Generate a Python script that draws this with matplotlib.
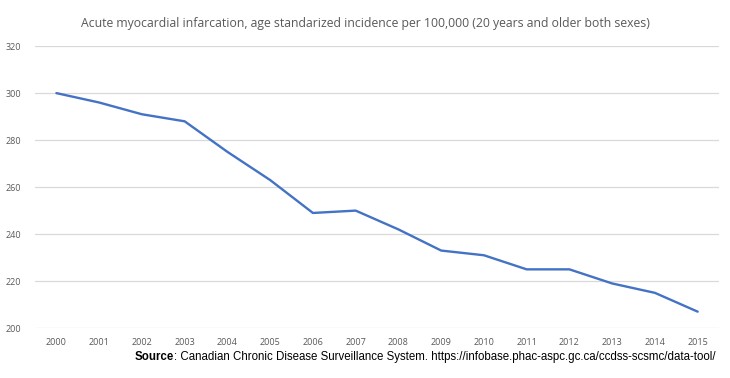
import matplotlib
matplotlib.use("Agg")
import matplotlib.pyplot as plt

years = [str(y) for y in range(2000, 2016)]
incidence = [300, 296, 291, 288, 275, 263, 249, 250, 242, 233, 231, 225, 225, 219, 215, 207]
y_ticks = [200, 220, 240, 260, 280, 300, 320]
title = "Acute myocardial infarcation, age standarized incidence per 100,000 (20 years and older both sexes)"
source_label = "Source"
source_text = ": Canadian Chronic Disease Surveillance System. https://infobase.phac-aspc.gc.ca/ccdss-scsmc/data-tool/"

W, H = 730, 378
fig = plt.figure(figsize=(W / 100, H / 100), dpi=100)
ax = fig.add_axes([0.048, 0.132, 0.937, 0.746])

x = list(range(len(years)))
ax.plot(x, incidence, color="#4472C4", linewidth=1.7, solid_capstyle="round")

ax.set_xlim(-0.5, len(years) - 0.5)
ax.set_ylim(200, 320)
ax.set_yticks(y_ticks)
ax.set_xticks(x)
ax.set_xticklabels(years)
ax.grid(axis="y", color="#D9D9D9", linewidth=0.9)
ax.set_axisbelow(True)
for s in ax.spines.values():
    s.set_visible(False)
ax.tick_params(axis="both", length=0, labelsize=6.5, labelcolor="#595959")
ax.tick_params(axis="x", pad=7)
ax.tick_params(axis="y", pad=10)
for lbl in ax.get_xticklabels() + ax.get_yticklabels():
    lbl.set_fontfamily("Open Sans")

fig.text(0.5, 0.937, title, ha="center", va="center", fontsize=8.8, color="#595959",
         family="Open Sans")

# Source line: bold prefix followed by regular text, fitted to span x=135..717 px
fs = 10.0
y_src = 1 - 357 / H
left_px, right_px = 135, 717
renderer = fig.canvas.get_renderer()
t1 = fig.text(0, y_src, source_label, ha="left", va="center", fontsize=fs,
              family="Liberation Sans", fontweight="bold", color="black")
t2 = fig.text(0, y_src, source_text, ha="left", va="center", fontsize=fs,
              family="Liberation Sans", color="black")
w1 = t1.get_window_extent(renderer).width
w2 = t2.get_window_extent(renderer).width
scale = (right_px - left_px) / (w1 + w2)
fs2 = fs * scale
t1.set_fontsize(fs2)
t2.set_fontsize(fs2)
w1 = t1.get_window_extent(renderer).width
t1.set_x(left_px / W)
t2.set_x((left_px + w1) / W)

fig.savefig("out.png", dpi=100)
